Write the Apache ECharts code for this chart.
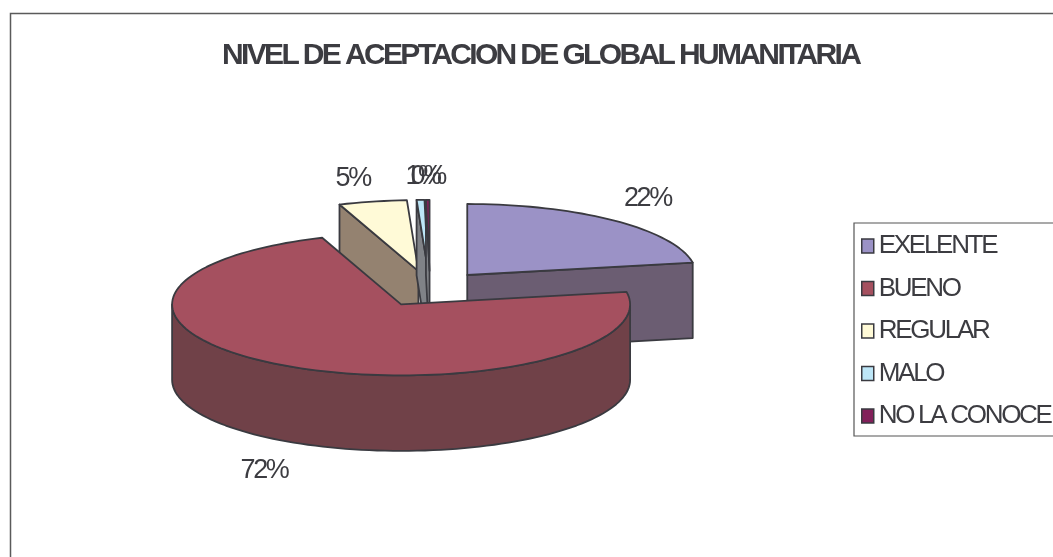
<!DOCTYPE html>
<html><head><meta charset="utf-8">
<style>html,body{margin:0;padding:0;background:#fff;overflow:hidden}#c{width:1053px;height:557px}</style>
<script src="https://cdn.jsdelivr.net/npm/echarts@6/dist/echarts.min.js"></script>
</head><body><div id="c"></div>
<script>
// Data
const titleText = 'NIVEL DE ACEPTACION DE GLOBAL HUMANITARIA';
const categories = ['EXELENTE', 'BUENO', 'REGULAR', 'MALO', 'NO LA CONOCE'];
const shares = [22.2, 72.2, 4.8, 0.55, 0.25];
// Style
const topColors = ['#9b92c6', '#a5505f', '#fffad7', '#bde6f7', '#82205a'];
const wallColors = ['#6b5d72', '#704148', '#948270', '#808287', '#808287'];
const drawOrder = [2, 6, 3, 4, 5];
const labelNudge = [[33, -22], [-23, 29], [-20, -23], [2, -23], [0, -23]];
const ink = '#3c3c41';

// Overlapping-glyph look of the source picture: tighten tracking on the canvas
const proto = CanvasRenderingContext2D.prototype, nativeFill = proto.fillText;
proto.fillText = function (t, x, y, m) {
  const size = parseFloat((this.font.match(/([\d.]+)px/) || [0, 0])[1]);
  this.letterSpacing = (-0.088 * size).toFixed(2) + 'px';
  return m === undefined ? nativeFill.call(this, t, x, y) : nativeFill.call(this, t, x, y, m);
};

// Projection of the tilted pie
const CX = 430, CY = 288.8, RX = 229, RY = 71, DEPTH = 75.5, EXPLODE = 58;
const total = shares.reduce((a, b) => a + b, 0);
const rad = d => d * Math.PI / 180;
function sliceAngles(i) {
  let s = 0;
  for (let k = 0; k < i; k++) s += shares[k];
  return [s / total * 360, (s + shares[i]) / total * 360];
}
function arcPoints(ax, ay, a0, a1, dy) {
  const n = Math.max(2, Math.ceil((a1 - a0) / 2)), pts = [];
  for (let j = 0; j <= n; j++) {
    const a = rad(a0 + (a1 - a0) * j / n);
    pts.push([ax + RX * Math.sin(a), ay - RY * Math.cos(a) + dy]);
  }
  return pts;
}
const edge = { stroke: '#3a3a40', lineWidth: 1.8, lineJoin: 'round' };
function renderSlice(i) {
  return function (params, api) {
    const value = api.value(0);
    const [a0, a1] = sliceAngles(i), mid = rad((a0 + a1) / 2);
    const ax = CX + EXPLODE * Math.sin(mid), ay = CY - EXPLODE * RY / RX * Math.cos(mid);
    const children = [];
    const wall = pts => children.push({ type: 'polygon', shape: { points: pts },
      style: Object.assign({ fill: wallColors[i] }, edge) });
    // cut faces that are turned to the viewer
    [[a0, Math.sin(rad(a0)) < -1e-6], [a1, Math.sin(rad(a1)) > 1e-6]].forEach(([a, show]) => {
      if (!show) return;
      const p = [ax + RX * Math.sin(rad(a)), ay - RY * Math.cos(rad(a))];
      wall([[ax, ay], p, [p[0], p[1] + DEPTH], [ax, ay + DEPTH]]);
    });
    // outer rim, only the part turned to the viewer
    const r0 = Math.max(a0, 90), r1 = Math.min(a1, 270);
    if (r1 > r0) wall(arcPoints(ax, ay, r0, r1, 0).concat(arcPoints(ax, ay, r0, r1, DEPTH).reverse()));
    // top
    children.push({ type: 'polygon', shape: { points: [[ax, ay]].concat(arcPoints(ax, ay, a0, a1, 0)) },
      style: Object.assign({ fill: topColors[i] }, edge) });
    // percentage
    const front = Math.cos(mid) < 0 ? DEPTH : 0;
    children.push({ type: 'text', z2: 10,
      x: ax + RX * Math.sin(mid) + labelNudge[i][0],
      y: ay - RY * Math.cos(mid) + front + labelNudge[i][1],
      style: { text: Math.round(value / total * 100) + '%', fill: ink, align: 'center', verticalAlign: 'middle',
        font: '27px "Liberation Sans", Arial, sans-serif' } });
    return { type: 'group', children };
  };
}

const chart = echarts.init(document.getElementById('c'), null, { renderer: 'canvas', width: 1053, height: 557 });
chart.setOption({
  animation: false,
  backgroundColor: '#fff',
  title: { text: titleText, left: 217, top: 36,
    textStyle: { color: ink, fontSize: 30, fontWeight: 'bold', fontFamily: '"Liberation Sans", Arial, sans-serif' } },
  legend: {
    orient: 'vertical', left: 854, top: 223, padding: [9, 60, 6, 7], itemGap: 14.5,
    itemWidth: 12, itemHeight: 14, icon: 'rect', borderColor: '#555', borderWidth: 1.2, backgroundColor: '#fff',
    data: categories, selectedMode: false,
    itemStyle: { borderColor: '#3a3a40', borderWidth: 1.5 },
    textStyle: { color: ink, fontSize: 26, padding: [0, 0, 0, 0], fontFamily: '"Liberation Sans", Arial, sans-serif', lineHeight: 28 }
  },
  graphic: [{ type: 'rect', z: -1, silent: true, shape: { x: 10.5, y: 13.5, width: 1200, height: 800 },
    style: { fill: '#fff', stroke: '#5a5a5a', lineWidth: 1.5 } }],
  series: categories.map((name, i) => ({
    type: 'custom', name, coordinateSystem: 'none', z: drawOrder[i], clip: false,
    itemStyle: { color: topColors[i], borderColor: '#3a3a40', borderWidth: 1.5 },
    renderItem: renderSlice(i), data: [[shares[i]]], encode: { value: 0 }
  }))
});
</script></body></html>
